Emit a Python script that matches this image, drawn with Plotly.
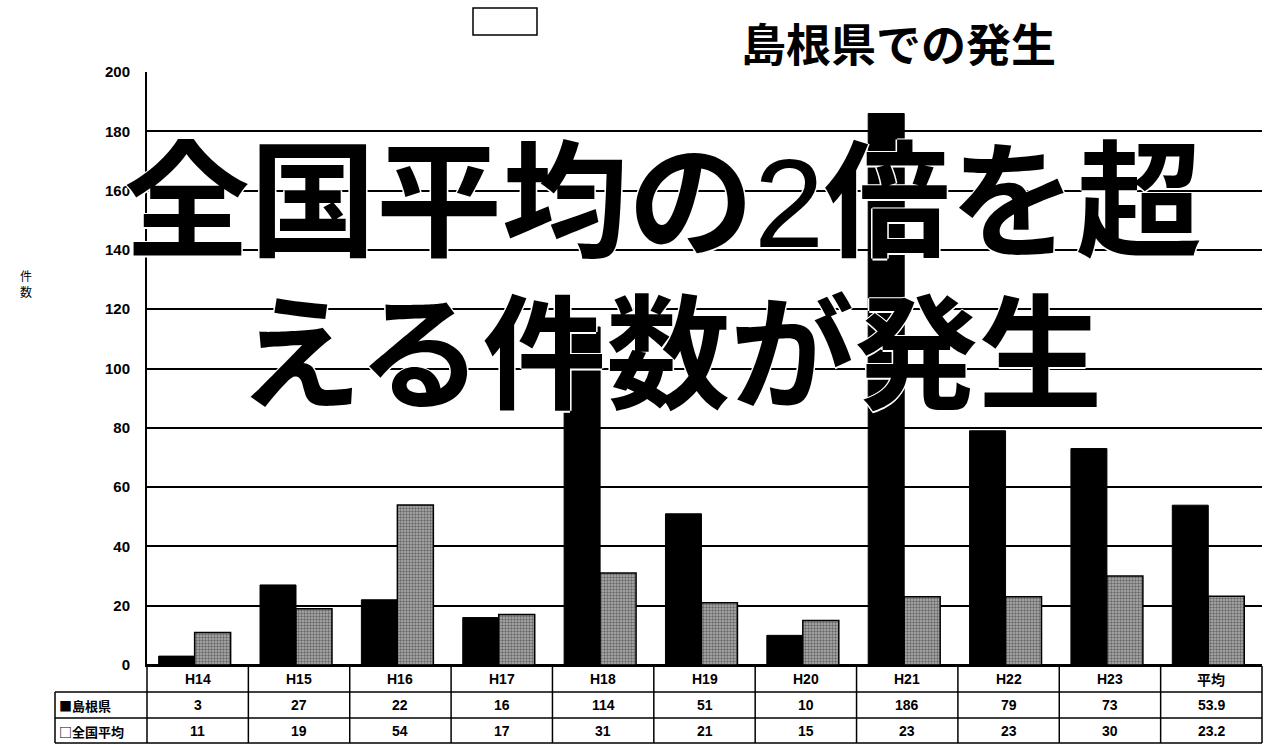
import plotly.graph_objects as go

# ---------------- data ----------------
categories = ["H14", "H15", "H16", "H17", "H18", "H19", "H20", "H21", "H22", "H23", "平均"]
shimane = [3, 27, 22, 16, 114, 51, 10, 186, 79, 73, 53.9]
national = [11, 19, 54, 17, 31, 21, 15, 23, 23, 30, 23.2]
series_names = ["島根県", "全国平均"]
row_labels = ["■島根県", "□全国平均"]
y_ticks = list(range(0, 201, 20))
title_text = "島根県での発生"
overlay_lines = ["全国平均の2倍を超", "える件数が発生"]
axis_label = "件<br>数"

# ---------------- layout helpers ----------------
W, H = 1264, 744
L, R, T, B = 147, 2, 72, 79
PW, PH = W - L - R, H - T - B


def py(p):
    return (H - B - p) / PH


def px(p):
    return (p - L) / PW


JP = "Noto Sans CJK JP"
LAT = "Liberation Sans"

fig = go.Figure()
fig.add_bar(
    x=categories, y=shimane, name=series_names[0],
    marker=dict(color="black", line=dict(color="black", width=1)),
    width=0.355, offset=-0.385,
)
fig.add_bar(
    x=categories, y=national, name=series_names[1],
    marker=dict(
        color="#777777",
        pattern=dict(shape=".", fgcolor="#222222", bgcolor="#b0b0b0", size=3, solidity=0.5),
        line=dict(color="black", width=1.5),
    ),
    width=0.355, offset=-0.03,
)

shapes = []
line = dict(color="black", width=1.5)
# horizontal table lines
shapes.append(dict(type="line", xref="paper", yref="paper", x0=0, x1=1, y0=py(666), y1=py(666), line=line))
for yy in (692, 718, 743):
    shapes.append(dict(type="line", xref="paper", yref="paper", x0=px(55), x1=1, y0=py(yy), y1=py(yy), line=line))
# vertical table lines
shapes.append(dict(type="line", xref="paper", yref="paper", x0=px(55), x1=px(55), y0=py(692), y1=py(743), line=line))
shapes.append(dict(type="line", xref="paper", yref="paper", x0=0, x1=0, y0=0, y1=py(743), line=line))
shapes.append(dict(type="line", xref="paper", yref="paper", x0=1, x1=1, y0=py(666), y1=py(743), line=line))
for i in range(1, len(categories)):
    shapes.append(dict(type="line", xref="x", yref="paper", x0=i - 0.5, x1=i - 0.5,
                       y0=py(666), y1=py(743), line=line))
# small empty box near the top
shapes.append(dict(type="rect", xref="paper", yref="paper", x0=px(473), x1=px(537),
                   y0=py(35), y1=py(8), line=dict(color="black", width=1.5), fillcolor="white"))

ann = []
tfont = dict(family=LAT, size=14, color="black", weight="bold")


def add_text(x, xref, y, text, font, xanchor="center"):
    ann.append(dict(x=x, xref=xref, y=y, yref="paper", text=text, showarrow=False,
                    xanchor=xanchor, yanchor="middle", font=font))


for i, c in enumerate(categories):
    add_text(c, "x", py(679), c,
             dict(family=JP if c == "平均" else LAT, size=14, color="black", weight="bold"))
    add_text(c, "x", py(705), f"{shimane[i]:g}", tfont)
    add_text(c, "x", py(731), f"{national[i]:g}", tfont)
for lbl, yy in zip(row_labels, (705, 731)):
    add_text(px(57), "paper", py(yy), lbl, dict(family=JP, size=13, color="black", weight="bold"),
             xanchor="left")

# axis label
add_text(px(26), "paper", py(283), axis_label, dict(family=JP, size=12, color="black"))
# title
add_text(px(898), "paper", py(42), title_text, dict(family=JP, size=45, color="black", weight="bold"))
# overlay big text
halo = ("1.5px 0 0 white, -1.5px 0 0 white, 0 1.5px 0 white, 0 -1.5px 0 white")
line1 = overlay_lines[0].replace("2", f"<span style='font-weight:normal;font-family:{LAT}'>2</span>")
add_text(px(663), "paper", py(192), line1,
         dict(family=JP, size=126, color="black", weight="bold", shadow=halo))
add_text(px(670), "paper", py(345), overlay_lines[1],
         dict(family=JP, size=124, color="black", weight="bold", shadow=halo))

fig.update_layout(
    width=W, height=H,
    margin=dict(l=L, r=R, t=T, b=B, pad=0),
    paper_bgcolor="white", plot_bgcolor="white",
    showlegend=False, barmode="group",
    shapes=shapes, annotations=ann,
    xaxis=dict(type="category", range=[-0.5, len(categories) - 0.5], showticklabels=False,
               showgrid=False, showline=True, linecolor="black", linewidth=2, ticks="", zeroline=False),
    yaxis=dict(range=[0, 200], tickvals=y_ticks, showgrid=True, gridcolor="black", gridwidth=1.5,
               showline=True, linecolor="black", linewidth=2, ticks="", zeroline=True,
               zerolinecolor="black", zerolinewidth=2, ticklabelstandoff=12,
               tickfont=dict(family=LAT, size=15, color="black", weight="bold")),
)

fig.write_html("out.html")
